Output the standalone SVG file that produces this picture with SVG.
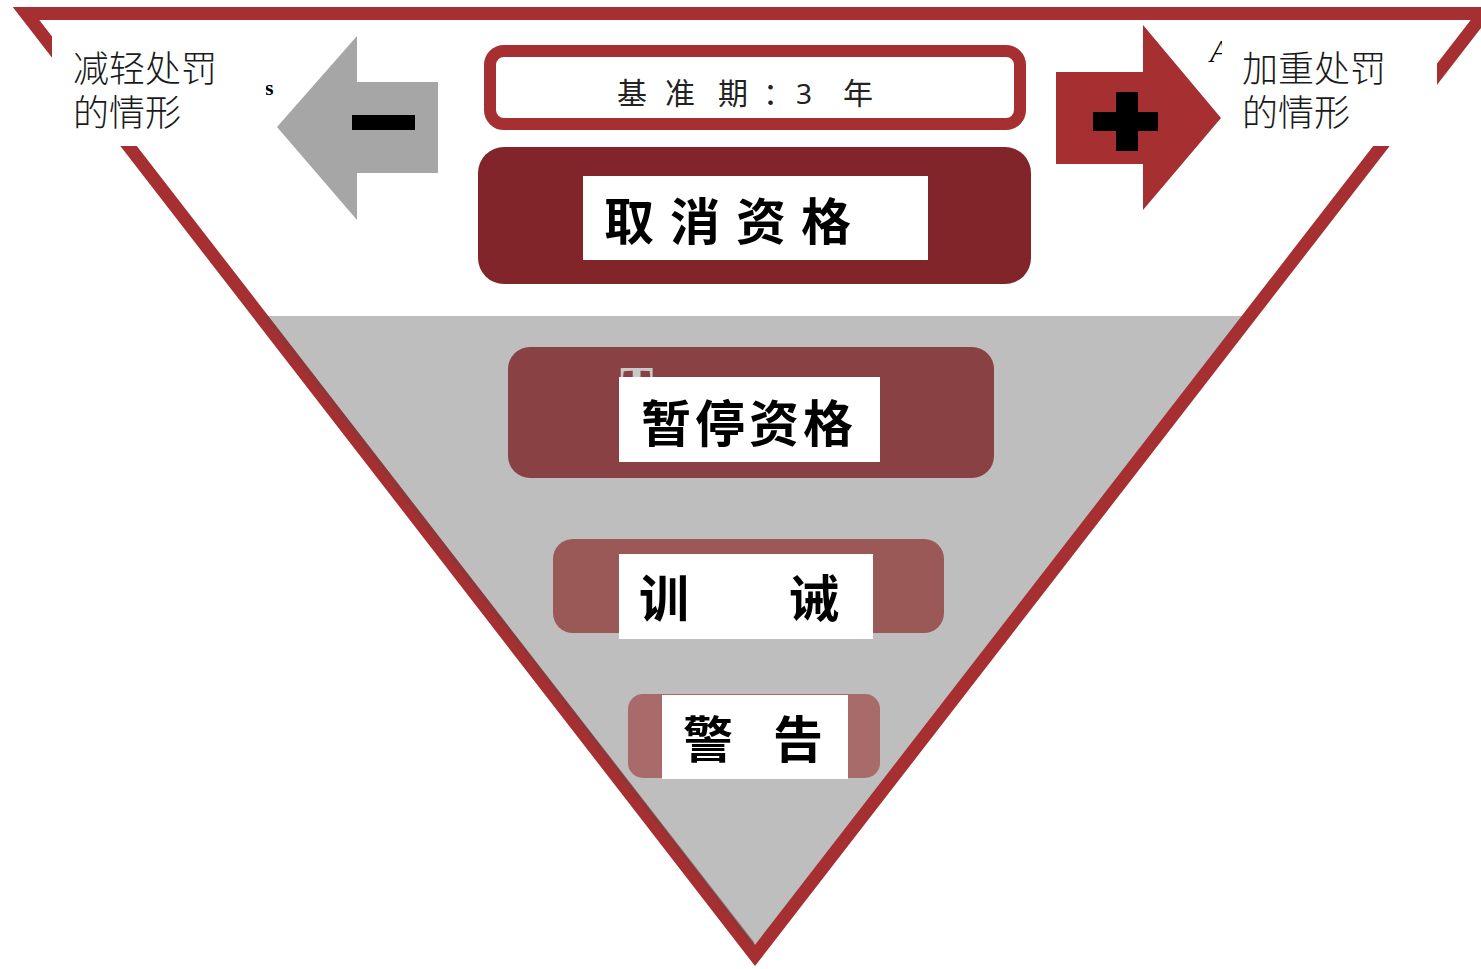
<svg xmlns="http://www.w3.org/2000/svg" width="1481" height="969" viewBox="0 0 1481 969">
<style>
.cjk{font-family:"Noto Sans CJK SC","Noto Sans",sans-serif;}
.side{font-size:36px;font-weight:300;fill:#1a1a1a;}
.big{font-size:50px;font-weight:700;fill:#000;}
.red{fill:#A52F31;}
.wb{fill:#fff;}
</style>
<rect width="1481" height="969" fill="#fff"/>
<g id="pyramid">
<polygon points="260,316 1250,316 755,955" fill="#BEBEBE"/>
<polygon points="26,13.5 1484,13.5 755,955.4" fill="none" stroke="#A52F31" stroke-width="13" stroke-linejoin="miter" stroke-miterlimit="10"/>
<line x1="265" y1="316" x2="753" y2="944" stroke="#7E3E3E" stroke-opacity="0.55" stroke-width="4"/>
</g>
<g id="frag">
<text x="265" y="95" font-family="Liberation Serif,serif" font-weight="700" font-size="22" fill="#000">s</text>
<text x="1210" y="62" font-family="Liberation Serif,serif" font-style="italic" font-size="32" fill="#000">A</text>
</g>
<g id="mitigating">
<rect class="wb" x="52" y="20" width="214" height="126"/>
<text class="cjk side" x="73" y="82">减轻处罚</text>
<text class="cjk side" x="73" y="126">的情形</text>
</g>
<g id="aggravating">
<rect class="wb" x="1222" y="20" width="215" height="126"/>
<text class="cjk side" x="1242" y="82">加重处罚</text>
<text class="cjk side" x="1242" y="126">的情形</text>
</g>
<g id="minus-arrow">
<polygon points="277,127 357,36 357,82 438,82 438,173 357,173 357,220" fill="#A6A6A6"/>
<rect x="352" y="115" width="63" height="15" fill="#000"/>
</g>
<g id="plus-arrow">
<polygon class="red" points="1056,72 1143,72 1143,25 1221,118 1143,210 1143,164 1056,164"/>
<rect x="1093" y="112" width="65" height="19" fill="#000"/>
<rect x="1116" y="92" width="22" height="59" fill="#000"/>
</g>
<g id="baseline-period">
<rect x="490" y="51" width="530" height="73" rx="14" fill="#fff" stroke="#A52F31" stroke-width="12"/>
<text class="cjk" font-size="30" font-weight="400" fill="#222" y="104"><tspan x="617">基</tspan><tspan x="665">准</tspan><tspan x="718">期</tspan><tspan x="763">：</tspan><tspan x="796" font-family="Noto Sans,sans-serif" font-size="28">3</tspan><tspan x="843">年</tspan></text>
</g>
<g id="disqualification">
<rect x="478" y="147" width="553" height="137" rx="26" fill="#82252A"/>
<rect class="wb" x="583" y="176" width="345" height="84"/>
<text class="cjk big" y="240"><tspan x="604">取</tspan><tspan x="670">消</tspan><tspan x="736">资</tspan><tspan x="801">格</tspan></text>
</g>
<g id="suspension">
<rect x="508" y="347" width="486" height="131" rx="22" fill="#8A4143"/>
<text x="620" y="401" font-family="Liberation Serif,serif" font-weight="700" font-size="50" fill="#C9C9C9">T</text>
<rect class="wb" x="619" y="377" width="261" height="85"/>
<text class="cjk big" x="641" y="442" font-size="53" textLength="212" lengthAdjust="spacing">暂停资格</text>
</g>
<g id="admonition">
<rect x="553" y="539" width="391" height="94" rx="20" fill="#9A5957"/>
<rect class="wb" x="619" y="554" width="254" height="85"/>
<text class="cjk big" y="617"><tspan x="639">训</tspan><tspan x="789">诫</tspan></text>
</g>
<g id="warning">
<rect x="628" y="694" width="252" height="84" rx="15" fill="#A86B6A"/>
<rect class="wb" x="662" y="695" width="186" height="84"/>
<text class="cjk big" y="758"><tspan x="683">警</tspan><tspan x="773">告</tspan></text>
</g>
</svg>
